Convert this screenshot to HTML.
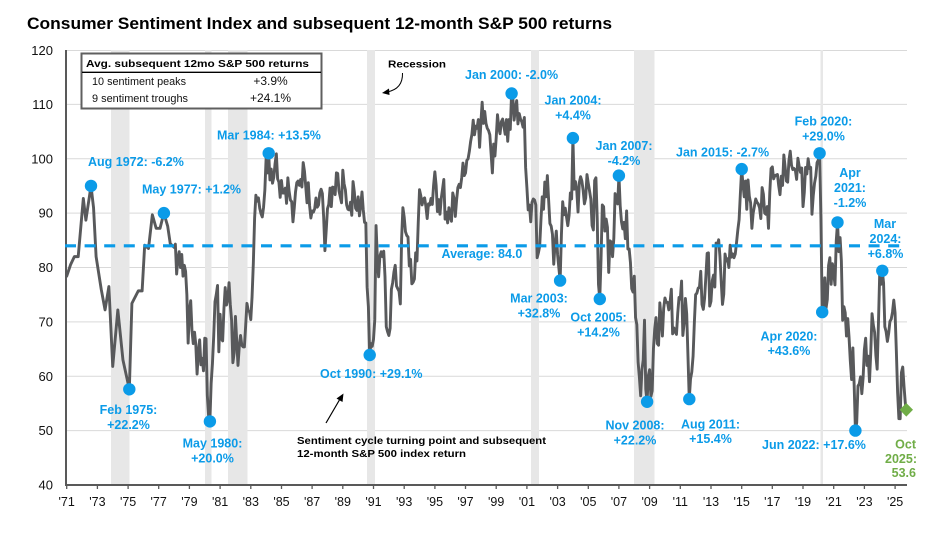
<!DOCTYPE html>
<html><head><meta charset="utf-8"><style>
html,body{margin:0;padding:0;background:#fff;}
svg{display:block;font-family:"Liberation Sans",Arial,sans-serif;}
.b{fill:#0b9be8;font-weight:bold;font-size:12.5px;}
.g{fill:#70ad47;font-weight:bold;font-size:12.5px;}
.k{fill:#000;font-weight:bold;font-size:10.5px;}
.xt{font-size:12.5px;fill:#111;text-anchor:middle;}
.yt{font-size:13px;fill:#111;text-anchor:end;}
</style></head><body>
<svg width="950" height="550" viewBox="0 0 950 550" xmlns="http://www.w3.org/2000/svg">
<rect x="0" y="0" width="950" height="550" fill="#fff"/>
<text x="27" y="29" font-size="17" font-weight="bold" fill="#000" textLength="585" lengthAdjust="spacingAndGlyphs">Consumer Sentiment Index and subsequent 12-month S&amp;P 500 returns</text>

<!-- gridlines -->
<g stroke="#d9d9d9" stroke-width="1">
<line x1="66" y1="50.5" x2="907" y2="50.5"/>
<line x1="66" y1="104.4" x2="907" y2="104.4"/>
<line x1="66" y1="158.8" x2="907" y2="158.8"/>
<line x1="66" y1="213.1" x2="907" y2="213.1"/>
<line x1="66" y1="267.5" x2="907" y2="267.5"/>
<line x1="66" y1="321.9" x2="907" y2="321.9"/>
<line x1="66" y1="376.3" x2="907" y2="376.3"/>
<line x1="66" y1="430.6" x2="907" y2="430.6"/>
</g>
<!-- recessions -->
<g fill="#e7e7e7">
<rect x="111" y="50" width="18.5" height="435"/>
<rect x="205" y="50" width="6.5" height="435"/>
<rect x="228" y="50" width="19.5" height="435"/>
<rect x="367" y="50" width="8" height="435"/>
<rect x="531" y="50" width="8" height="435"/>
<rect x="634" y="50" width="20.5" height="435"/>
<rect x="820.5" y="50" width="2.5" height="435"/>
</g>

<!-- axes -->
<line x1="66" y1="50" x2="66" y2="486" stroke="#595959" stroke-width="2"/>
<line x1="65" y1="485" x2="907" y2="485" stroke="#595959" stroke-width="2"/>
<g stroke="#595959" stroke-width="1.3">
<line x1="66.7" y1="485" x2="66.7" y2="489"/><line x1="97.4" y1="485" x2="97.4" y2="489"/><line x1="128.1" y1="485" x2="128.1" y2="489"/><line x1="158.7" y1="485" x2="158.7" y2="489"/><line x1="189.4" y1="485" x2="189.4" y2="489"/><line x1="220.1" y1="485" x2="220.1" y2="489"/><line x1="250.8" y1="485" x2="250.8" y2="489"/><line x1="281.5" y1="485" x2="281.5" y2="489"/><line x1="312.1" y1="485" x2="312.1" y2="489"/><line x1="342.8" y1="485" x2="342.8" y2="489"/><line x1="373.5" y1="485" x2="373.5" y2="489"/><line x1="404.2" y1="485" x2="404.2" y2="489"/><line x1="434.9" y1="485" x2="434.9" y2="489"/><line x1="465.5" y1="485" x2="465.5" y2="489"/><line x1="496.2" y1="485" x2="496.2" y2="489"/><line x1="526.9" y1="485" x2="526.9" y2="489"/><line x1="557.6" y1="485" x2="557.6" y2="489"/><line x1="588.3" y1="485" x2="588.3" y2="489"/><line x1="618.9" y1="485" x2="618.9" y2="489"/><line x1="649.6" y1="485" x2="649.6" y2="489"/><line x1="680.3" y1="485" x2="680.3" y2="489"/><line x1="711" y1="485" x2="711" y2="489"/><line x1="741.7" y1="485" x2="741.7" y2="489"/><line x1="772.3" y1="485" x2="772.3" y2="489"/><line x1="803" y1="485" x2="803" y2="489"/><line x1="833.7" y1="485" x2="833.7" y2="489"/><line x1="864.4" y1="485" x2="864.4" y2="489"/><line x1="895.1" y1="485" x2="895.1" y2="489"/>
</g>
<!-- y labels -->
<text class="yt" x="53" y="55">120</text>
<text class="yt" x="53" y="109">110</text>
<text class="yt" x="53" y="163.3">100</text>
<text class="yt" x="53" y="217.6">90</text>
<text class="yt" x="53" y="272">80</text>
<text class="yt" x="53" y="326.4">70</text>
<text class="yt" x="53" y="380.8">60</text>
<text class="yt" x="53" y="435.1">50</text>
<text class="yt" x="53" y="489.5">40</text>
<!-- x labels -->
<g>
<text class="xt" x="66.7" y="506">'71</text><text class="xt" x="97.4" y="506">'73</text><text class="xt" x="128.1" y="506">'75</text><text class="xt" x="158.7" y="506">'77</text><text class="xt" x="189.4" y="506">'79</text><text class="xt" x="220.1" y="506">'81</text><text class="xt" x="250.8" y="506">'83</text><text class="xt" x="281.5" y="506">'85</text><text class="xt" x="312.1" y="506">'87</text><text class="xt" x="342.8" y="506">'89</text><text class="xt" x="373.5" y="506">'91</text><text class="xt" x="404.2" y="506">'93</text><text class="xt" x="434.9" y="506">'95</text><text class="xt" x="465.5" y="506">'97</text><text class="xt" x="496.2" y="506">'99</text><text class="xt" x="526.9" y="506">'01</text><text class="xt" x="557.6" y="506">'03</text><text class="xt" x="588.3" y="506">'05</text><text class="xt" x="618.9" y="506">'07</text><text class="xt" x="649.6" y="506">'09</text><text class="xt" x="680.3" y="506">'11</text><text class="xt" x="711" y="506">'13</text><text class="xt" x="741.7" y="506">'15</text><text class="xt" x="772.3" y="506">'17</text><text class="xt" x="803" y="506">'19</text><text class="xt" x="833.7" y="506">'21</text><text class="xt" x="864.4" y="506">'23</text><text class="xt" x="895.1" y="506">'25</text>
</g>

<!-- series -->
<polyline fill="none" stroke="#58595b" stroke-width="2.9" stroke-linejoin="round" stroke-linecap="round" vector-effect="non-scaling-stroke" transform="matrix(1.27833 0 0 -5.4375 66.7 702.5)" points="0,78.4 3,80.5 6,82 9,82 13,92.7 15,88.7 19,95 21,91 23,82 27,76 30,72.2 33,76.5 36,61.8 40,72.2 44,63 49,57.6 51,73.4 56,75.7 59,75.7 61,84.1 64,83.5 67,89.7 70,87.2 73,87.2 76,90 79,87.6 81,84.4
84,83.7 85,84.3 86,78.8 87,81.6 88,82.9 89,80 90,82.4 91,78.4 92,80.4 93,79.3 94,75 95,66.1
96,72.1 97,73.9 98,68.4 99,66 100,68.1 101,65.8 102,60.4 103,64.5 104,66.7 105,62.1 106,63.3 107,61
108,67 109,66.9 110,56.5 111,52.7 112,51.7 113,58.7 114,62.3 115,67.4 116,73.7 117,75 118,76.7 119,64.5
120,71.4 121,66.9 122,66.5 123,72.4 124,76.3 125,73.1 126,74.1 127,77.2 128,73.1 129,70.3 130,62.5 131,64.3
132,71 133,66.5 134,62 135,65.5 136,67.5 137,65.7 138,65.4 139,65.4 140,69.3 141,73.4 142,72.1 143,71.9
144,70.4 145,74.6 146,80.8 147,89.1 148,93.3 149,92.2 150,92.8 151,90.9 152,89.9 153,89.3 154,91.1 155,94.2
156,100.1 157,97.4 158,101 159,96.1 160,98.1 161,95.5 162,96.6 163,99.1 164,100.9 165,96.3 166,95.7 167,92.9
168,96 169,93.7 170,93.7 171,94.6 172,91.8 173,96.5 174,94 175,92.4 176,92.1 177,88.4 178,90.9 179,93.9
180,95.6 181,95.9 182,95.1 183,96.2 184,94.8 185,99.3 186,97.7 187,94.9 188,91.9 189,95.6 190,91.4 191,89.1
192,90.4 193,90.2 194,90.8 195,92.8 196,91.1 197,91.5 198,93.7 199,94.4 200,93.6 201,89.3 202,83.1 203,86.8
204,90.8 205,91.6 206,94.6 207,91.2 208,94.8 209,94.7 210,93.4 211,97.4 212,97.3 213,94.1 214,93 215,91.9
216,97.9 217,95.4 218,94.3 219,91.5 220,90.7 221,90.6 222,92 223,89.6 224,95.8 225,93.9 226,90.9 227,90.5
228,93 229,89.5 230,91.3 231,93.9 232,90.6 233,88.3 234,88.2 235,76.4 236,72.8 237,63.9 238,66 239,65.5
240,66.8 241,70.4 242,87.7 243,81.8 244,78.3 245,82.1 246,82.9 247,82 248,83 249,78.3 250,69.1 251,68.2
252,67.5 253,68.8 254,76 255,77.2 256,79.2 257,80.4 258,76.6 259,76.1 260,75.6 261,73.3 262,85.3 263,91
264,89.3 265,86.6 266,85.9 267,85.6 268,80.3 269,81.5 270,77 271,77.3 272,77.9 273,82.7 274,81.2 275,88.2
276,94.3 277,93.2 278,91.5 279,92.6 280,92.8 281,91.2 282,89 283,91.7 284,91.5 285,92.7 286,91.6 287,95.1
288,97.6 289,95.1 290,90.3 291,92.5 292,89.8 293,92.7 294,94.4 295,96.2 296,88.9 297,90.2 298,88.2 299,91
300,89.3 301,88.5 302,93.7 303,92.7 304,89.4 305,92.4 306,94.7 307,95.3 308,94.7 309,96.5 310,99.2 311,96.9
312,97.4 313,99.7 314,100 315,101.4 316,103.2 317,104.5 318,107.1 319,104.4 320,106 321,105.6 322,107.2 323,102.1
324,106.6 325,110.4 326,106.5 327,108.7 328,106.5 329,105.6 330,105.2 331,104.4 332,100.9 333,97.4 334,102.7 335,100.5
336,103.9 337,108.1 338,105.7 339,104.6 340,106.8 341,107.3 342,106 343,104.5 344,107.2 345,103.2 346,107.2 347,105.4
348,112 349,111.3 350,107.1 351,109.2 352,110.7 353,106.4 354,108.3 355,107.3 356,106.8 357,105.8 358,107.6 359,98.4
360,94.7 361,90.6 362,91.5 363,88.4 364,92 365,92.6 366,92.4 367,91.5 368,81.8 369,82.7 370,83.9 371,88.8
372,93 373,90.7 374,95.7 375,93 376,96.9 377,92.4 378,88.1 379,87.6 380,86.1 381,80.6 382,84.2 383,86.7
384,82.4 385,79.9 386,77.6 387,86 388,92.1 389,89.7 390,90.9 391,89.3 392,87.7 393,89.6 394,93.7 395,92.6
396,103.8 397,94.4 398,95.8 399,94.2 400,90.2 401,95.6 402,96.7 403,95.9 404,94.2 405,91.7 406,92.8 407,97.1
408,95.5 409,94.1 410,92.6 411,87.7 412,86.9 413,96 414,96.5 415,89.1 416,76.9 417,74.2 418,81.6 419,91.5
420,91.2 421,86.7 422,88.9 423,87.4 424,79.1 425,84.9 426,84.7 427,82 428,85.4 429,93.6 430,92.1 431,91.7
432,96.9 433,91.3 434,88.4 435,87.1 436,88.3 437,85.3 438,90.4 439,83.4 440,83.4 441,80.9 442,76.1 443,75.5
444,78.4 445,70.8 446,69.5 447,62.6 448,59.8 449,56.4 450,61.2 451,63 452,70.3 453,57.6 454,55.3 455,60.1
456,61.2 457,56.3 458,57.3 459,65.1 460,68.7 461,70.8 462,66 463,65.7 464,73.5 465,70.6 466,67.4 467,72.5
468,74.4 469,73.6 470,73.6 471,72.2 472,73.6 473,76 474,67.8 475,68.9 476,68.2 477,67.7 478,71.6 479,74.5
480,74.2 481,77.5 482,67.5 483,69.8 484,74.3 485,71.5 486,63.7 487,55.8 488,59.5 489,60.8 490,63.7 491,69.9
492,75 493,75.3 494,76.2 495,76.4 496,79.3 497,73.2 498,72.3 499,74.3 500,78.3 501,82.6 502,82.7 503,72.9
504,73.8 505,77.6 506,78.6 507,76.4 508,84.5 509,84.1 510,85.1 511,82.1 512,77.5 513,73.2 514,75.1 515,82.5
516,81.2 517,81.6 518,80 519,84.1 520,81.9 521,82.5 522,81.8 523,82.5 524,84.6 525,86.9 526,88.8 527,93.6
528,98.1 529,95.4 530,93 531,95.9 532,90.7 533,96.1 534,93.1 535,91.9 536,87.2 537,90 538,91.3 539,92.6
540,92 541,91.7 542,91 543,89 544,94.7 545,93.5 546,90 547,89.8 548,91.2 549,87.2 550,93.8 551,98.2
552,98.5 553,96.3 554,96.9 555,97 556,97.1 557,95 558,93.4 559,96.8 560,95.1 561,100.7 562,98.5 563,95.9
564,95.7 565,99.7 566,101.4 567,98.8 568,98 569,98.2 570,97.9 571,96.2 572,100.1 573,98.6 574,97.5 575,98.3
576,91.2 577,93.8 578,98.4 579,97.2 580,100 581,98.2 582,98.4 583,89.8 584,93.2 585,95.5 586,96.8 587,99.3
588,99.8 589,101 590,89.1 591,71.8 592,72.3 593,78.1 594,72.5 595,74.1 596,80.4 597,81.8 598,76.9 599,80.7
600,79 601,76.8 602,84.9 603,88.3 604,82.9 605,85.5 606,81.2 607,70.3 608,72.8 609,71.7 610,67.4 611,70.6
612,67.2 613,62.8 614,59.4 615,65.2 616,58.4 617,50 618,51.5 619,58.2 620,58.6 621,59.9 622,56.8 623,59.7
624,64.9 625,67 626,62 627,63.7 628,59 629,64.4 630,71.5 631,69.4 632,68.1 633,63.8 634,61.3 635,69.7
636,79 637,76.9 638,79.4 639,77.2 640,69.1 641,68.2 642,66.4 643,67.9 644,70.1 645,70.5 646,71.8 647,74
648,71.7 649,64.7 650,57 651,52.2 652,52.2 653,60.7 654,61.7 655,58.2 656,55.1 657,53.6"/>

<!-- average -->
<line x1="65" y1="245.8" x2="907" y2="245.8" stroke="#0b9be8" stroke-width="3.2" stroke-dasharray="11 8.6"/>

<!-- dots -->
<g fill="#0b9be8">
<circle cx="91" cy="185.9" r="6.2"/>
<circle cx="129.3" cy="389.3" r="6.2"/>
<circle cx="163.9" cy="213.1" r="6.2"/>
<circle cx="209.9" cy="421.4" r="6.2"/>
<circle cx="268.7" cy="153.3" r="6.2"/>
<circle cx="369.7" cy="355" r="6.2"/>
<circle cx="511.6" cy="93.5" r="6.2"/>
<circle cx="560.1" cy="280.6" r="6.2"/>
<circle cx="572.9" cy="138.1" r="6.2"/>
<circle cx="599.8" cy="299" r="6.2"/>
<circle cx="618.9" cy="175.6" r="6.2"/>
<circle cx="647.1" cy="401.8" r="6.2"/>
<circle cx="689.3" cy="399.1" r="6.2"/>
<circle cx="741.7" cy="169.1" r="6.2"/>
<circle cx="819.6" cy="153.3" r="6.2"/>
<circle cx="822.2" cy="312.1" r="6.2"/>
<circle cx="837.5" cy="222.4" r="6.2"/>
<circle cx="855.4" cy="430.6" r="6.2"/>
<circle cx="882.3" cy="270.8" r="6.2"/>
</g>
<polygon points="906.3,403 913,409.8 906.3,416.6 899.6,409.8" fill="#70ad47"/>

<!-- legend box -->
<rect x="81.5" y="53.5" width="240" height="55" fill="#fff" stroke="#5f5f5f" stroke-width="2"/>
<text class="k" x="86" y="67" textLength="223" lengthAdjust="spacingAndGlyphs">Avg. subsequent 12mo S&amp;P 500 returns</text>
<line x1="82" y1="72.3" x2="321" y2="72.3" stroke="#000" stroke-width="1.3"/>
<text x="92" y="85" font-size="11" fill="#111" textLength="94" lengthAdjust="spacingAndGlyphs">10 sentiment peaks</text>
<text x="270.5" y="85" font-size="12" fill="#111" text-anchor="middle">+3.9%</text>
<text x="92" y="102" font-size="11" fill="#111" textLength="96" lengthAdjust="spacingAndGlyphs">9 sentiment troughs</text>
<text x="270.5" y="102" font-size="12" fill="#111" text-anchor="middle">+24.1%</text>

<!-- recession note -->
<text class="k" x="388" y="67.3" textLength="58" lengthAdjust="spacingAndGlyphs">Recession</text>
<path d="M402.5,73 Q403,89 387,92" fill="none" stroke="#000" stroke-width="1"/>
<polygon points="382,93 389,88.5 389.5,95" fill="#000"/>

<!-- sentiment note -->
<text class="k" x="297" y="444" textLength="249" lengthAdjust="spacingAndGlyphs">Sentiment cycle turning point and subsequent</text>
<text class="k" x="297" y="457" textLength="169" lengthAdjust="spacingAndGlyphs">12-month S&amp;P 500 index return</text>
<line x1="326" y1="423" x2="340" y2="399" stroke="#000" stroke-width="1.2"/>
<polygon points="343.5,393.5 342.5,402 336.5,398.5" fill="#000"/>

<!-- blue labels -->
<text class="b" x="88" y="166">Aug 1972: -6.2%</text>
<text class="b" x="142" y="193.5">May 1977: +1.2%</text>
<text class="b" x="217" y="139.5">Mar 1984: +13.5%</text>
<text class="b" x="128.5" y="414" text-anchor="middle">Feb 1975:</text>
<text class="b" x="128.5" y="429" text-anchor="middle">+22.2%</text>
<text class="b" x="212.5" y="447.5" text-anchor="middle">May 1980:</text>
<text class="b" x="212.5" y="462.5" text-anchor="middle">+20.0%</text>
<text class="b" x="320" y="378">Oct 1990: +29.1%</text>
<text class="b" x="465" y="79">Jan 2000: -2.0%</text>
<text class="b" x="573" y="104.5" text-anchor="middle">Jan 2004:</text>
<text class="b" x="573" y="119.5" text-anchor="middle">+4.4%</text>
<text class="b" x="624" y="150" text-anchor="middle">Jan 2007:</text>
<text class="b" x="624" y="165" text-anchor="middle">-4.2%</text>
<text class="b" x="441.5" y="258">Average: 84.0</text>
<text class="b" x="539" y="302.5" text-anchor="middle">Mar 2003:</text>
<text class="b" x="539" y="317.5" text-anchor="middle">+32.8%</text>
<text class="b" x="598.5" y="321.5" text-anchor="middle">Oct 2005:</text>
<text class="b" x="598.5" y="336.5" text-anchor="middle">+14.2%</text>
<text class="b" x="635" y="429.3" text-anchor="middle">Nov 2008:</text>
<text class="b" x="635" y="444.5" text-anchor="middle">+22.2%</text>
<text class="b" x="710.5" y="428.3" text-anchor="middle">Aug 2011:</text>
<text class="b" x="710.5" y="443" text-anchor="middle">+15.4%</text>
<text class="b" x="762" y="449">Jun 2022: +17.6%</text>
<text class="b" x="676" y="156.5">Jan 2015: -2.7%</text>
<text class="b" x="823.5" y="125.5" text-anchor="middle">Feb 2020:</text>
<text class="b" x="823.5" y="140.5" text-anchor="middle">+29.0%</text>
<text class="b" x="850" y="177" text-anchor="middle">Apr</text>
<text class="b" x="850" y="192" text-anchor="middle">2021:</text>
<text class="b" x="850" y="207" text-anchor="middle">-1.2%</text>
<text class="b" x="885" y="228" text-anchor="middle">Mar</text>
<text class="b" x="885.5" y="243" text-anchor="middle">2024:</text>
<text class="b" x="885.5" y="258" text-anchor="middle">+6.8%</text>
<text class="b" x="789" y="340.5" text-anchor="middle">Apr 2020:</text>
<text class="b" x="789" y="355" text-anchor="middle">+43.6%</text>
<text class="g" x="916" y="448.3" text-anchor="end">Oct</text>
<text class="g" x="917" y="463" text-anchor="end">2025:</text>
<text class="g" x="916" y="477" text-anchor="end">53.6</text>
</svg>
</body></html>
